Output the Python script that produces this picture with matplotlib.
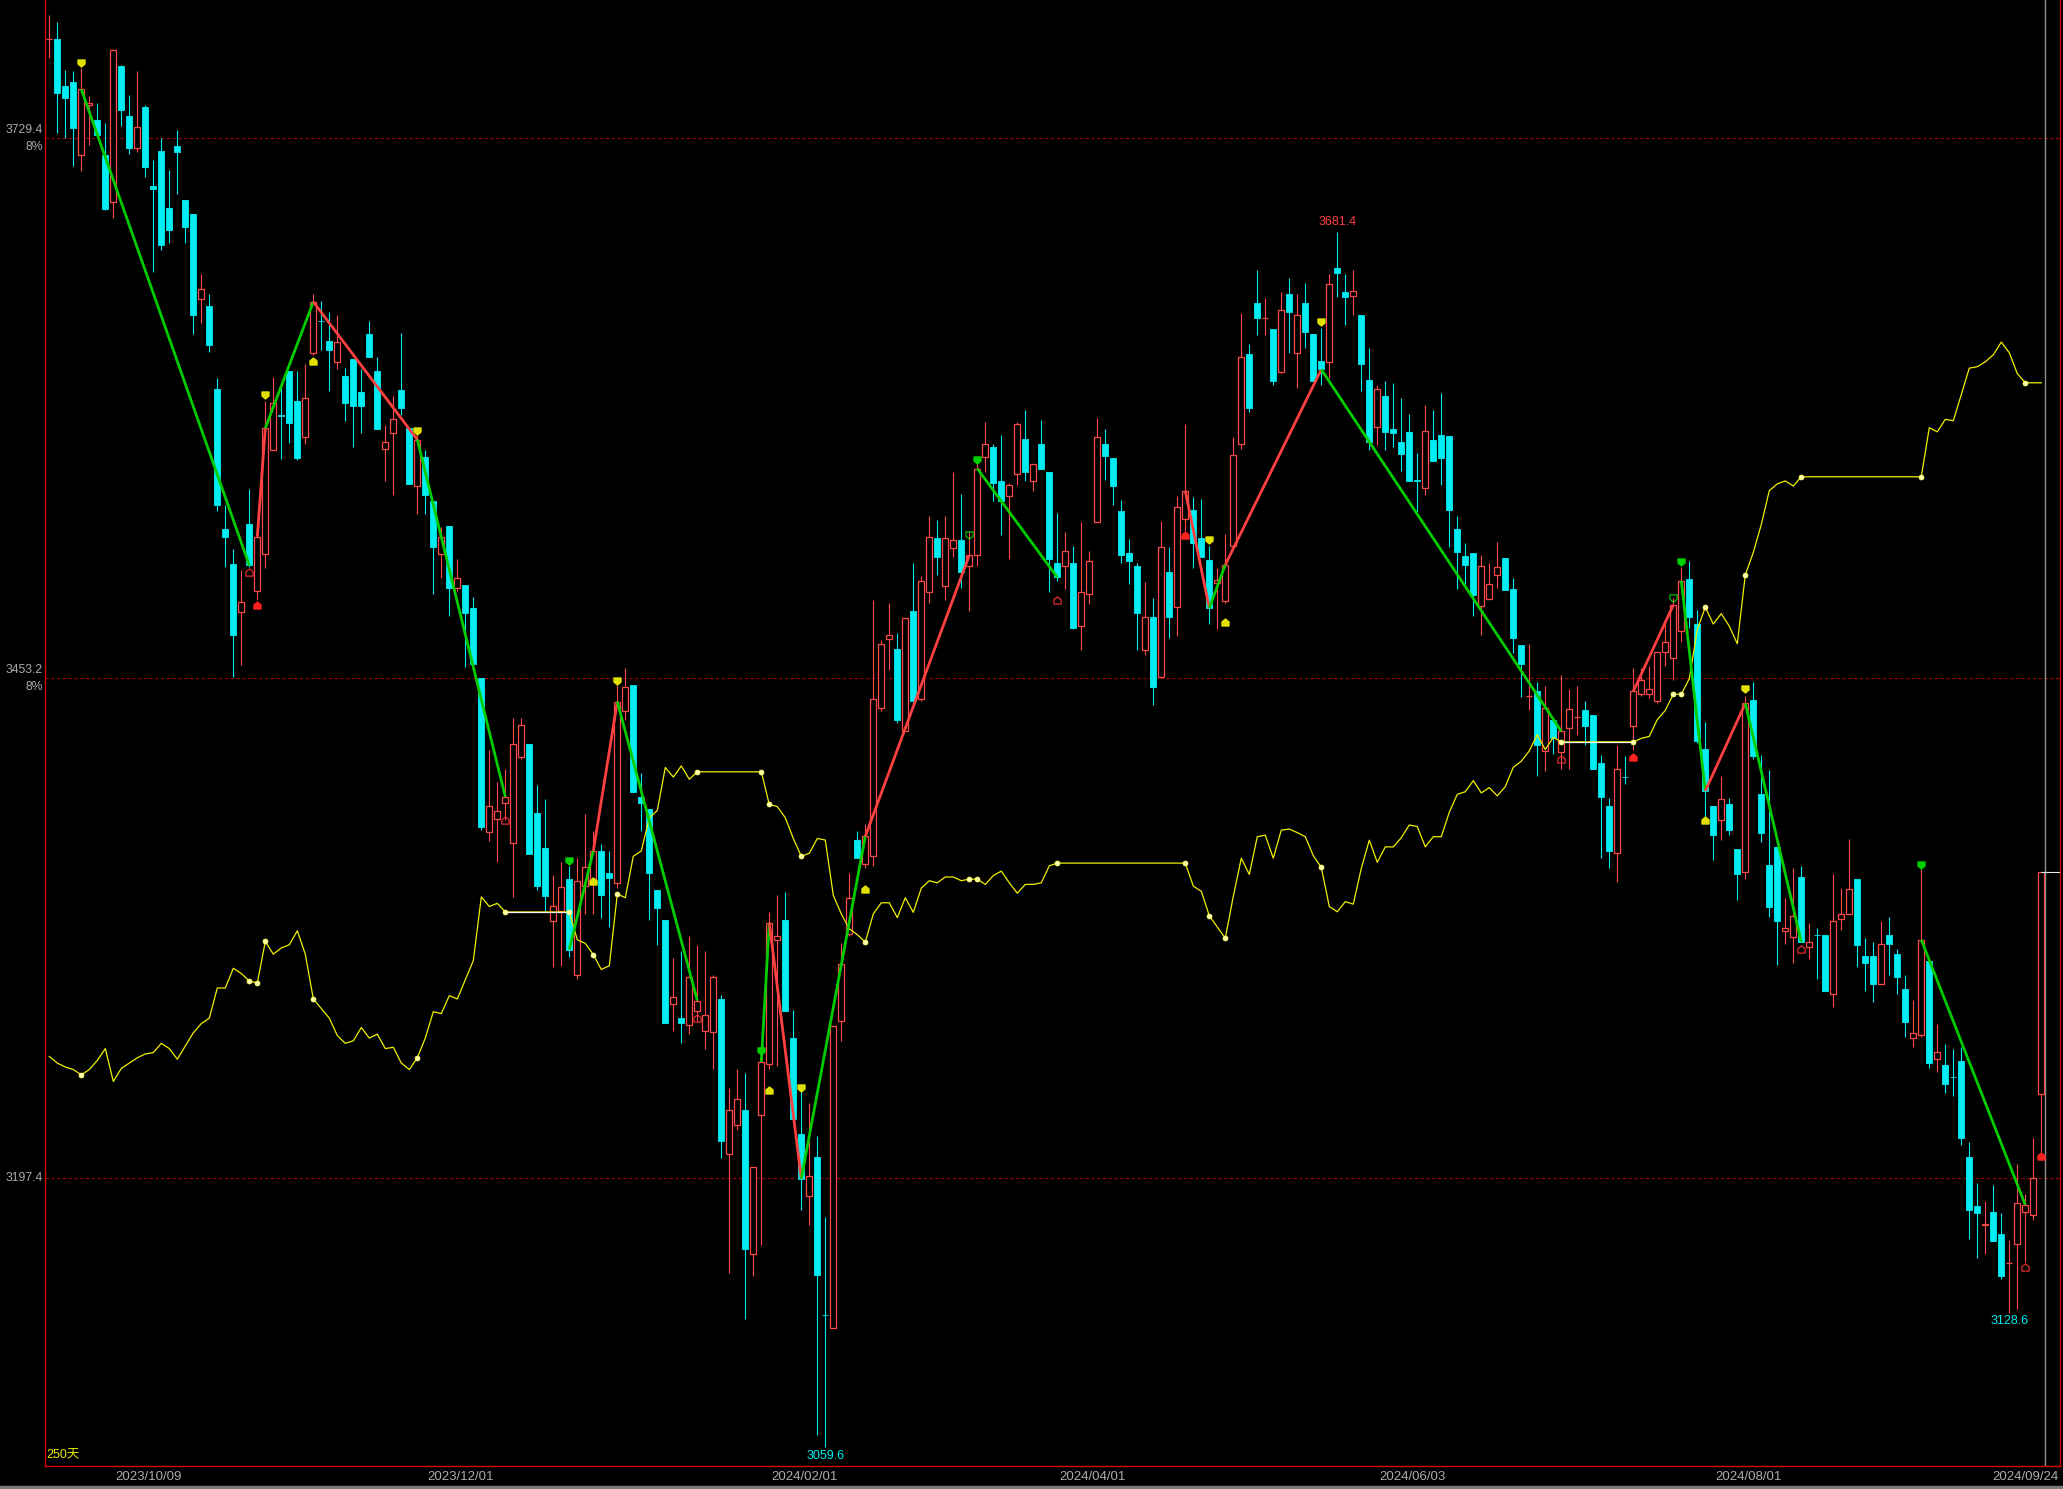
import numpy as np
import matplotlib
matplotlib.use('Agg')
import matplotlib.pyplot as plt
from matplotlib.path import Path
from matplotlib.transforms import blended_transform_factory
from matplotlib.patches import Rectangle

# === daily candles, 250 bars (2023/09/18 .. 2024/09/30) ===
opens = [
    3780.0, 3780.0, 3756.0, 3758.0, 3720.5, 3746.1, 3738.6, 3720.7, 3696.5, 3766.2,
    3740.7, 3724.5, 3745.3, 3704.9, 3722.9, 3693.6, 3725.3, 3697.8, 3690.6, 3646.9,
    3643.6, 3601.2, 3529.4, 3511.5, 3487.0, 3532.0, 3497.8, 3516.4, 3569.6, 3587.6,
    3610.3, 3595.0, 3576.7, 3619.5, 3635.9, 3625.7, 3614.6, 3607.7, 3616.2, 3599.6,
    3629.3, 3610.3, 3570.5, 3578.7, 3600.6, 3581.0, 3551.6, 3566.3, 3543.5, 3516.4,
    3531.1, 3499.4, 3501.0, 3489.0, 3453.1, 3374.5, 3381.3, 3389.2, 3368.9, 3413.0,
    3419.5, 3384.3, 3366.3, 3329.1, 3334.0, 3350.3, 3301.5, 3346.9, 3347.6, 3364.7,
    3353.3, 3348.4, 3436.5, 3449.8, 3392.3, 3386.2, 3344.6, 3329.5, 3286.3, 3279.5,
    3275.8, 3282.6, 3272.7, 3272.0, 3289.0, 3209.5, 3224.7, 3232.2, 3158.5, 3229.6,
    3255.7, 3319.3, 3329.5, 3269.0, 3219.8, 3188.0, 3208.4, 3127.5, 3120.6, 3277.7,
    3322.0, 3370.3, 3358.2, 3362.0, 3437.7, 3473.3, 3468.0, 3426.3, 3487.6, 3442.2,
    3497.1, 3524.7, 3500.5, 3519.8, 3523.6, 3510.3, 3516.0, 3566.3, 3571.6, 3553.9,
    3546.3, 3557.6, 3575.4, 3553.9, 3572.8, 3558.8, 3512.2, 3510.3, 3511.9, 3479.8,
    3496.2, 3532.8, 3572.9, 3565.9, 3538.5, 3517.1, 3510.3, 3467.5, 3484.2, 3453.7,
    3507.2, 3489.4, 3534.6, 3539.0, 3524.9, 3513.7, 3502.0, 3492.8, 3520.8, 3572.9,
    3618.9, 3645.0, 3637.2, 3631.9, 3609.7, 3649.4, 3619.4, 3645.0, 3629.3, 3615.5,
    3614.7, 3663.0, 3650.7, 3648.6, 3639.0, 3605.8, 3581.6, 3597.2, 3580.8, 3573.7,
    3578.9, 3554.4, 3550.2, 3575.0, 3577.6, 3577.1, 3529.4, 3515.5, 3517.1, 3490.2,
    3493.6, 3505.9, 3514.5, 3498.8, 3470.1, 3444.0, 3446.6, 3415.8, 3431.5, 3415.1,
    3427.7, 3433.0, 3436.6, 3434.1, 3409.7, 3387.5, 3363.8, 3402.6, 3428.4, 3444.9,
    3444.9, 3441.3, 3466.4, 3463.5, 3477.2, 3503.7, 3480.8, 3416.9, 3387.5, 3380.3,
    3388.9, 3365.9, 3354.1, 3442.0, 3393.6, 3357.7, 3366.7, 3323.6, 3320.7, 3351.6,
    3315.7, 3321.9, 3321.8, 3291.3, 3330.0, 3332.6, 3350.5, 3311.0, 3311.0, 3296.7,
    3321.8, 3312.1, 3294.2, 3269.1, 3270.5, 3308.5, 3258.3, 3255.4, 3249.1, 3257.2,
    3208.0, 3182.9, 3173.6, 3180.1, 3168.6, 3153.9, 3163.9, 3180.1, 3178.3, 3240.4,
]
highs = [
    3792.3, 3788.7, 3764.2, 3763.7, 3765.2, 3750.9, 3747.3, 3736.9, 3775.0, 3766.7,
    3751.4, 3763.7, 3746.1, 3718.1, 3729.2, 3713.0, 3733.5, 3697.8, 3690.6, 3659.9,
    3649.5, 3606.4, 3541.8, 3519.0, 3508.6, 3550.0, 3526.2, 3595.0, 3607.1, 3602.2,
    3610.3, 3610.4, 3613.6, 3649.5, 3646.2, 3640.3, 3639.0, 3612.0, 3616.2, 3611.0,
    3635.8, 3617.5, 3582.6, 3597.3, 3629.9, 3581.0, 3579.4, 3569.6, 3543.5, 3530.4,
    3531.1, 3514.1, 3501.0, 3494.5, 3453.1, 3416.3, 3400.0, 3406.5, 3432.6, 3432.6,
    3419.5, 3398.3, 3391.1, 3352.6, 3359.0, 3357.1, 3360.9, 3383.6, 3374.9, 3368.5,
    3364.7, 3451.7, 3458.1, 3449.8, 3404.4, 3386.2, 3344.6, 3329.5, 3309.8, 3313.6,
    3321.2, 3316.6, 3313.6, 3301.5, 3290.9, 3243.6, 3253.1, 3251.2, 3203.1, 3260.6,
    3333.3, 3342.0, 3343.9, 3283.3, 3242.5, 3236.0, 3219.0, 3177.4, 3275.0, 3317.4,
    3353.3, 3374.9, 3378.7, 3493.3, 3472.5, 3491.4, 3476.3, 3483.8, 3512.2, 3505.6,
    3536.0, 3533.8, 3536.0, 3558.8, 3547.4, 3528.5, 3566.3, 3584.1, 3572.8, 3577.7,
    3552.9, 3584.1, 3590.5, 3562.6, 3585.3, 3558.8, 3537.4, 3528.1, 3520.8, 3532.8,
    3518.1, 3586.0, 3580.8, 3565.9, 3544.3, 3524.1, 3511.9, 3502.5, 3494.1, 3533.3,
    3520.2, 3546.3, 3582.9, 3545.8, 3545.0, 3520.8, 3509.3, 3526.8, 3576.3, 3639.8,
    3624.1, 3661.7, 3647.6, 3631.9, 3650.7, 3658.0, 3649.4, 3655.4, 3629.3, 3632.4,
    3659.9, 3681.4, 3659.9, 3661.7, 3639.0, 3622.0, 3603.2, 3605.0, 3604.3, 3596.4,
    3588.1, 3568.5, 3592.8, 3590.1, 3599.0, 3577.1, 3535.9, 3522.3, 3517.1, 3516.3,
    3511.9, 3522.8, 3514.5, 3504.1, 3470.1, 3470.6, 3451.1, 3449.2, 3431.5, 3454.6,
    3447.4, 3449.2, 3441.3, 3434.1, 3414.0, 3391.8, 3418.7, 3413.3, 3458.2, 3458.2,
    3459.2, 3466.4, 3483.3, 3494.0, 3510.2, 3513.1, 3487.9, 3430.5, 3387.5, 3403.3,
    3391.8, 3365.9, 3443.8, 3451.0, 3414.0, 3406.1, 3366.7, 3340.8, 3355.9, 3357.0,
    3327.9, 3325.4, 3321.8, 3353.0, 3345.8, 3371.0, 3350.5, 3320.0, 3318.2, 3329.0,
    3330.8, 3314.6, 3301.4, 3288.4, 3355.9, 3308.5, 3276.2, 3266.2, 3263.3, 3264.4,
    3215.9, 3195.1, 3185.4, 3193.7, 3179.4, 3165.7, 3204.5, 3189.0, 3217.7, 3354.1,
]
lows = [
    3770.2, 3732.1, 3729.6, 3715.2, 3712.7, 3726.0, 3731.0, 3692.6, 3688.6, 3735.7,
    3721.4, 3722.4, 3709.6, 3661.1, 3672.0, 3675.8, 3701.0, 3675.6, 3629.3, 3634.8,
    3620.1, 3538.6, 3509.9, 3453.8, 3459.6, 3509.9, 3492.9, 3509.2, 3569.6, 3565.3,
    3573.2, 3564.7, 3572.9, 3618.5, 3620.8, 3599.9, 3611.3, 3584.9, 3571.2, 3578.4,
    3617.5, 3580.3, 3554.2, 3546.7, 3587.5, 3552.3, 3536.9, 3536.9, 3496.2, 3504.3,
    3484.7, 3497.8, 3458.7, 3460.3, 3375.5, 3369.6, 3359.2, 3380.3, 3341.2, 3412.0,
    3363.1, 3344.5, 3333.7, 3305.3, 3306.0, 3310.6, 3299.2, 3332.5, 3332.5, 3330.6,
    3325.7, 3345.8, 3431.6, 3395.0, 3374.9, 3329.5, 3316.6, 3276.9, 3272.7, 3266.3,
    3271.2, 3277.7, 3263.6, 3253.1, 3207.6, 3149.0, 3222.0, 3125.2, 3147.1, 3163.0,
    3253.1, 3254.9, 3282.6, 3227.7, 3181.2, 3173.6, 3065.8, 3059.6, 3120.6, 3267.4,
    3321.2, 3360.9, 3356.0, 3357.1, 3436.5, 3457.4, 3430.1, 3426.3, 3441.5, 3441.5,
    3491.4, 3505.8, 3493.3, 3514.9, 3499.0, 3487.6, 3510.3, 3558.8, 3543.6, 3526.2,
    3514.1, 3552.0, 3553.9, 3549.0, 3560.3, 3497.1, 3502.8, 3498.8, 3478.5, 3467.5,
    3491.0, 3532.8, 3554.7, 3541.6, 3511.9, 3501.4, 3467.5, 3464.9, 3439.3, 3453.7,
    3473.8, 3474.6, 3528.6, 3509.3, 3515.0, 3480.6, 3478.0, 3491.5, 3520.8, 3570.3,
    3589.4, 3628.5, 3628.5, 3603.2, 3609.0, 3619.4, 3601.7, 3622.0, 3605.0, 3603.2,
    3606.4, 3648.1, 3633.8, 3639.0, 3600.0, 3569.8, 3572.4, 3569.8, 3571.1, 3558.9,
    3554.2, 3538.0, 3546.9, 3564.1, 3552.1, 3520.2, 3498.8, 3501.4, 3485.0, 3475.3,
    3493.6, 3499.4, 3498.0, 3465.9, 3443.3, 3436.7, 3402.8, 3405.4, 3414.5, 3406.8,
    3406.8, 3424.1, 3418.7, 3406.8, 3361.3, 3355.9, 3348.7, 3398.9, 3416.2, 3443.8,
    3442.7, 3440.2, 3459.2, 3452.1, 3471.4, 3478.6, 3419.8, 3381.7, 3360.2, 3370.2,
    3373.1, 3339.8, 3350.5, 3411.5, 3369.5, 3330.8, 3306.4, 3317.1, 3307.4, 3318.2,
    3309.2, 3299.2, 3293.1, 3284.8, 3324.3, 3332.6, 3305.6, 3293.1, 3287.7, 3296.7,
    3301.4, 3291.3, 3269.8, 3264.4, 3269.8, 3253.6, 3251.8, 3241.1, 3239.3, 3214.1,
    3166.4, 3156.7, 3158.5, 3165.0, 3146.0, 3128.6, 3130.5, 3154.2, 3175.8, 3210.6,
]
closes = [
    3780.1, 3752.6, 3750.0, 3734.7, 3754.3, 3747.1, 3731.1, 3693.3, 3774.4, 3743.9,
    3724.5, 3734.9, 3714.7, 3703.5, 3674.9, 3682.5, 3722.4, 3684.1, 3639.0, 3652.1,
    3623.4, 3541.8, 3525.5, 3475.0, 3492.3, 3510.8, 3525.5, 3581.0, 3594.0, 3587.4,
    3583.6, 3565.6, 3596.6, 3645.6, 3635.7, 3620.8, 3625.0, 3594.0, 3592.4, 3592.4,
    3617.5, 3580.3, 3573.8, 3585.9, 3591.4, 3552.3, 3575.1, 3546.7, 3520.3, 3525.5,
    3499.4, 3504.3, 3486.4, 3460.3, 3377.1, 3387.9, 3385.3, 3392.4, 3419.5, 3429.3,
    3363.1, 3346.7, 3341.9, 3336.3, 3346.5, 3314.3, 3349.5, 3356.3, 3364.7, 3342.0,
    3350.7, 3441.1, 3448.7, 3395.0, 3389.3, 3353.3, 3335.5, 3276.9, 3290.1, 3276.9,
    3300.4, 3288.2, 3280.7, 3300.4, 3216.4, 3232.2, 3237.9, 3161.1, 3203.1, 3256.8,
    3328.0, 3321.2, 3282.6, 3227.7, 3197.1, 3198.2, 3147.9, 3127.3, 3275.0, 3306.8,
    3340.8, 3360.9, 3372.2, 3442.2, 3470.6, 3475.2, 3431.6, 3483.8, 3441.5, 3502.8,
    3525.5, 3514.9, 3524.7, 3523.6, 3507.3, 3516.0, 3560.3, 3572.8, 3552.7, 3543.6,
    3552.0, 3583.0, 3558.8, 3562.6, 3560.3, 3514.1, 3504.7, 3518.1, 3479.0, 3497.3,
    3512.9, 3576.3, 3566.7, 3551.5, 3516.3, 3512.9, 3486.3, 3484.2, 3448.5, 3520.2,
    3484.2, 3540.6, 3548.9, 3522.3, 3515.0, 3488.9, 3503.3, 3511.1, 3567.2, 3617.3,
    3591.2, 3637.2, 3637.3, 3605.0, 3641.6, 3640.3, 3639.0, 3630.4, 3605.0, 3611.0,
    3654.6, 3660.6, 3648.1, 3651.2, 3613.7, 3573.7, 3601.1, 3578.9, 3578.7, 3567.7,
    3554.2, 3554.1, 3579.5, 3564.1, 3565.9, 3539.0, 3517.6, 3511.1, 3495.4, 3510.3,
    3501.4, 3509.8, 3498.0, 3473.8, 3460.2, 3444.1, 3419.0, 3438.0, 3422.4, 3425.9,
    3437.3, 3433.1, 3428.4, 3406.8, 3392.5, 3364.9, 3406.8, 3402.4, 3446.3, 3452.1,
    3447.4, 3466.4, 3471.8, 3490.5, 3503.0, 3484.4, 3421.2, 3395.4, 3373.1, 3391.1,
    3375.6, 3353.0, 3440.2, 3413.3, 3373.8, 3336.2, 3329.0, 3325.4, 3331.5, 3318.2,
    3318.2, 3321.7, 3293.1, 3329.0, 3332.6, 3345.1, 3316.4, 3307.4, 3296.7, 3317.1,
    3317.1, 3300.3, 3277.0, 3271.6, 3319.3, 3256.1, 3261.9, 3245.4, 3248.9, 3217.7,
    3180.8, 3179.4, 3173.7, 3165.0, 3147.1, 3154.0, 3184.4, 3183.7, 3197.3, 3354.1,
]

# yellow indicator line (one value per bar)
yellow = [
    3259.6, 3256.2, 3254.2, 3252.9, 3250.2, 3252.9, 3257.6, 3263.6, 3246.8, 3253.5,
    3256.2, 3258.9, 3260.9, 3261.6, 3266.3, 3263.6, 3258.2, 3265.0, 3271.7, 3276.4,
    3279.2, 3294.6, 3294.6, 3304.7, 3302.0, 3298.2, 3297.2, 3318.4, 3311.9, 3315.1,
    3316.7, 3323.9, 3311.9, 3289.0, 3284.1, 3279.2, 3270.3, 3266.3, 3267.6, 3274.4,
    3269.0, 3271.0, 3263.6, 3264.3, 3256.2, 3252.9, 3258.9, 3269.0, 3282.5, 3281.5,
    3290.7, 3289.0, 3298.8, 3308.6, 3341.2, 3336.3, 3337.9, 3333.5, 3333.5, 3333.5,
    3333.5, 3333.5, 3333.5, 3333.5, 3333.5, 3333.5, 3319.3, 3317.4, 3311.7, 3304.1,
    3306.0, 3342.7, 3340.8, 3362.0, 3364.7, 3381.7, 3385.4, 3407.4, 3402.5, 3408.2,
    3401.4, 3405.2, 3405.2, 3405.2, 3405.2, 3405.2, 3405.2, 3405.2, 3405.2, 3405.2,
    3388.5, 3387.4, 3381.7, 3371.1, 3362.0, 3363.5, 3371.1, 3370.3, 3342.0, 3332.5,
    3324.9, 3321.9, 3318.1, 3332.5, 3338.2, 3338.2, 3330.6, 3340.8, 3333.3, 3345.7,
    3349.5, 3348.4, 3351.4, 3351.4, 3349.5, 3350.3, 3350.3, 3347.6, 3352.1, 3354.4,
    3348.4, 3343.1, 3347.6, 3347.6, 3348.4, 3357.1, 3358.5, 3358.5, 3358.5, 3358.5,
    3358.5, 3358.5, 3358.5, 3358.5, 3358.5, 3358.5, 3358.5, 3358.5, 3358.5, 3358.5,
    3358.5, 3358.5, 3358.5, 3346.7, 3344.1, 3331.6, 3325.8, 3320.1, 3341.5, 3361.0,
    3352.7, 3372.0, 3372.8, 3361.0, 3375.4, 3375.9, 3374.1, 3372.0, 3362.3, 3356.3,
    3336.3, 3333.6, 3338.8, 3337.5, 3355.8, 3370.2, 3358.9, 3366.8, 3366.8, 3371.5,
    3378.0, 3377.2, 3366.8, 3372.0, 3372.0, 3384.5, 3393.7, 3395.0, 3400.7, 3394.4,
    3397.1, 3392.9, 3397.6, 3407.5, 3410.6, 3415.9, 3424.2, 3416.6, 3422.8, 3420.5,
    3420.5, 3420.5, 3420.5, 3420.5, 3420.5, 3420.5, 3420.5, 3420.5, 3420.5, 3422.3,
    3423.3, 3431.9, 3436.6, 3444.9, 3444.9, 3452.8, 3478.0, 3489.4, 3480.8, 3486.1,
    3479.7, 3470.7, 3505.9, 3517.4, 3531.7, 3549.0, 3552.5, 3554.0, 3551.4, 3556.1,
    3556.1, 3556.1, 3556.1, 3556.1, 3556.1, 3556.1, 3556.1, 3556.1, 3556.1, 3556.1,
    3556.1, 3556.1, 3556.1, 3556.1, 3556.1, 3581.2, 3579.1, 3585.5, 3584.8, 3598.1,
    3611.7, 3612.4, 3614.9, 3618.5, 3625.0, 3619.6, 3608.9, 3604.2, 3604.2, 3604.2,
]
# bars where the yellow line has a dot (turning points)
pivot_bars = [4, 25, 26, 27, 33, 46, 57, 65, 68, 71, 81, 89, 90, 94, 102, 115, 116,
              126, 142, 145, 147, 159, 189, 198, 203, 204, 207, 212, 219, 234, 247]
# flat stretches drawn in white
white_spans = [(57, 65), (189, 198)]

# zigzag segments: start bar, start price, end bar, end price, colour
zz_start = [4, 26, 27, 33, 46, 65, 68, 71, 89, 90, 94, 102, 116, 142, 145, 147, 159, 198, 204, 207, 212, 234]
zz_p0 = [3754.3, 3525.5, 3581.0, 3645.6, 3575.1, 3314.3, 3364.7, 3441.1, 3256.8, 3328.0, 3197.1,
         3372.2, 3560.3, 3548.9, 3488.9, 3511.1, 3611.0, 3446.3, 3503.0, 3395.4, 3440.2, 3319.3]
zz_end = [25, 27, 33, 46, 57, 68, 71, 81, 90, 94, 102, 115, 126, 145, 147, 159, 189, 203, 207, 212, 219, 247]
zz_p1 = [3510.8, 3581.0, 3645.6, 3575.1, 3392.4, 3364.7, 3441.1, 3288.2, 3328.0, 3197.1, 3372.2,
         3516.0, 3504.7, 3488.9, 3511.1, 3611.0, 3425.9, 3490.5, 3395.4, 3440.2, 3318.2, 3183.7]
zz_col = ['g', 'r', 'g', 'r', 'g', 'g', 'r', 'g', 'g', 'r', 'g',
          'r', 'g', 'r', 'g', 'r', 'g', 'r', 'g', 'r', 'g', 'g']

# small signal arrows next to candles
sig_bar = [4, 25, 26, 27, 33, 46, 57, 65, 68, 71, 81, 89, 90, 94, 102, 115, 116, 126,
           142, 145, 147, 159, 189, 198, 203, 204, 207, 212, 219, 234, 247, 249]
sig_px = [3767.9, 3507.2, 3490.3, 3598.0, 3615.2, 3579.4, 3380.3, 3359.8, 3349.5, 3451.7,
          3279.5, 3262.5, 3242.5, 3243.6, 3345.0, 3526.2, 3564.8, 3493.3, 3526.3, 3523.6,
          3481.6, 3635.1, 3411.5, 3412.6, 3494.0, 3512.7, 3380.3, 3447.4, 3314.6, 3357.7,
          3152.1, 3208.8]
sig_kind = ['yd', 'ruh', 'ru', 'yd', 'yu', 'yd', 'ruh', 'gd', 'yu', 'yd',
            'ruh', 'gd', 'yu', 'yd', 'yu', 'gdh', 'gd', 'ruh', 'ru', 'yd',
            'yu', 'yd', 'ruh', 'ru', 'gdh', 'gd', 'yu', 'yd', 'ruh', 'gd',
            'ruh', 'ru']

# bars carrying the high / low price labels
high_label_bars = [161]
low_label_bars = [97, 245]

level_lines = [3729.4, 3453.2, 3197.4]
date_bars = [9, 48, 91, 127, 167, 209, 245]
date_labels = ['2023/10/09', '2023/12/01', '2024/02/01', '2024/04/01',
               '2024/06/03', '2024/08/01', '2024/09/24']

CYAN = '#00eef2'
RED = '#ff4848'
GREEN = '#00cc00'
ZRED = '#ff4040'
YEL = '#f0f000'
GRAY = '#a8acb0'
FONT = ['Liberation Sans', 'DejaVu Sans']

o = np.array(opens); h = np.array(highs); l = np.array(lows); c = np.array(closes)
idx = np.arange(len(o))
up = c >= o

fig = plt.figure(figsize=(20.63, 14.89), dpi=100, facecolor='black')
ax = fig.add_axes([45 / 2063, 23 / 1489, 2015 / 2063, 1466 / 1489], facecolor='black')
xmax = 251.34
ax.set_xlim(-0.54, xmax)
ax.set_ylim(3050.1, 3800.0)
ax.set_xticks([])
ax.set_yticks([])
for s in ['left', 'bottom', 'right']:
    ax.spines[s].set_color('#d00000')
    ax.spines[s].set_linewidth(1.0)
ax.spines['top'].set_visible(False)

for lv in level_lines:
    ax.axhline(lv, color='#a00000', lw=0.8, ls=(0, (3, 2.2)), zorder=1)

# candles
ax.vlines(idx[up], l[up], h[up], color=RED, lw=0.8, zorder=2)
ax.vlines(idx[~up], l[~up], h[~up], color=CYAN, lw=0.8, zorder=2)
ax.bar(idx[up], c[up] - o[up], bottom=o[up], width=0.76, facecolor='black',
       edgecolor=RED, lw=0.9, zorder=3)
ax.bar(idx[~up], o[~up] - c[~up], bottom=c[~up], width=0.76, facecolor=CYAN,
       edgecolor=CYAN, lw=0.6, zorder=3)

# yellow indicator
yv = np.array(yellow)
ax.plot(idx, yv, color=YEL, lw=0.9, zorder=4)
for a, b in white_spans:
    ax.plot([a, b], [yv[a], yv[a]], color='#f4f4f4', lw=0.9, zorder=4.1)
ax.plot(pivot_bars, yv[pivot_bars], 'o', ms=3.6, color='#ffffb0', mec='#ffff60',
        mew=0.5, zorder=4.2)

# zigzag
for x0, p0, x1, p1, cl in zip(zz_start, zz_p0, zz_end, zz_p1, zz_col):
    ax.plot([x0, x1], [p0, p1], color=GREEN if cl == 'g' else ZRED, lw=2.0,
            solid_capstyle='butt', zorder=6)

# signal markers (house shapes pointing at the candle)
down_house = Path([(-1, 1), (1, 1), (1, -0.2), (0, -1), (-1, -0.2), (-1, 1)],
                  [1, 2, 2, 2, 2, 79])
up_house = Path([(-1, -1), (1, -1), (1, 0.2), (0, 1), (-1, 0.2), (-1, -1)],
                [1, 2, 2, 2, 2, 79])
styles = {
    'yd': (down_house, '#e0e000', '#e0e000'),
    'yu': (up_house, '#e0e000', '#e0e000'),
    'gd': (down_house, '#00d000', '#00d000'),
    'gdh': (down_house, 'none', '#00d000'),
    'ru': (up_house, '#ff2020', '#ff2020'),
    'ruh': (up_house, 'none', '#ff3030'),
}
for b, p, k in zip(sig_bar, sig_px, sig_kind):
    mk, fc, ec = styles[k]
    ax.plot([b], [p], marker=mk, ms=5.2, mfc=fc, mec=ec, mew=0.8, ls='none', zorder=7)

# last price line and cursor
ax.axvline(len(o) - 0.5, color='#909090', lw=1.0, zorder=1)
ax.hlines(c[-1], len(o) - 1, xmax, color='#e8e8e8', lw=0.8, zorder=5)

# extreme labels
for b in high_label_bars:
    ax.annotate(f'{h[b]:.1f}', (b, h[b]), xytext=(0, 3), textcoords='offset points',
                ha='center', va='bottom', color='#ff4040', fontsize=9, family=FONT)
for b in low_label_bars:
    ax.annotate(f'{l[b]:.1f}', (b, l[b]), xytext=(0, -2), textcoords='offset points',
                ha='center', va='top', color=CYAN, fontsize=9, family=FONT)

# left price labels
ytr = blended_transform_factory(ax.transAxes, ax.transData)
for k, lv in enumerate(level_lines):
    if k < 2:
        ax.annotate(f'{lv:.1f}', (-0.001, lv), xycoords=ytr, xytext=(0, 5.8),
                    textcoords='offset points', ha='right', va='center', color=GRAY,
                    fontsize=8.8, family=FONT, annotation_clip=False)
        ax.annotate('8%', (-0.001, lv), xycoords=ytr, xytext=(0, -6.3),
                    textcoords='offset points', ha='right', va='center', color=GRAY,
                    fontsize=8.8, family=FONT, annotation_clip=False)
    else:
        ax.annotate(f'{lv:.1f}', (-0.001, lv), xycoords=ytr, xytext=(0, 0),
                    textcoords='offset points', ha='right', va='center', color=GRAY,
                    fontsize=8.8, family=FONT, annotation_clip=False)

# date labels under the axis
xtr = blended_transform_factory(ax.transData, ax.transAxes)
for b, t in zip(date_bars, date_labels):
    if b + 4 > xmax - 4:
        ax.text(xmax - 0.2, -0.0075, t, transform=xtr, ha='right', va='center',
                color=GRAY, fontsize=9.5, family=FONT, clip_on=False)
    else:
        ax.text(b + 3.4, -0.0075, t, transform=xtr, ha='center', va='center',
                color=GRAY, fontsize=9.5, family=FONT, clip_on=False)

ax.text(0.0008, 0.007, '250天', transform=ax.transAxes, ha='left', va='center',
        color='#e8e800', fontsize=9, family=['Liberation Sans', 'Noto Sans CJK SC'])

fig.patches.append(Rectangle((0, 0), 1, 3 / 1489, transform=fig.transFigure,
                             color='#7a7a7a', zorder=0))

fig.savefig('out.png', dpi=100, facecolor='black')
